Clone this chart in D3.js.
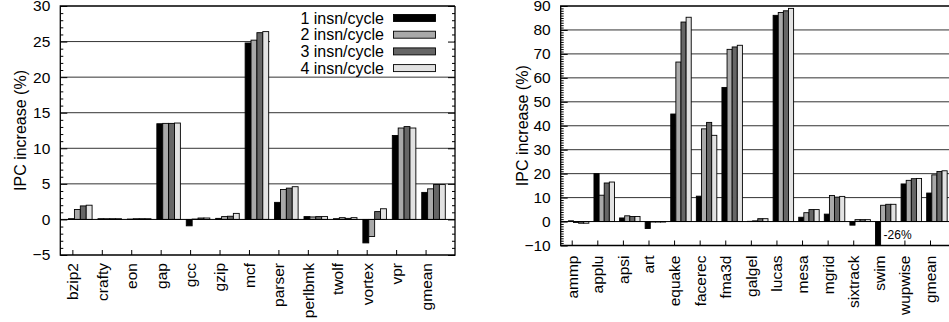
<!DOCTYPE html>
<html>
<head>
<meta charset="utf-8">
<script src="https://cdn.jsdelivr.net/npm/d3@7"></script>
<style>
  html, body { margin: 0; padding: 0; background: #fff; }
  svg { display: block; font-family: 'Liberation Sans', Arial, Helvetica, sans-serif; }
</style>
</head>
<body>
<svg id="chart" width="949" height="322"></svg>
<script>
// ---- data ----
const seriesNames = ['1 insn/cycle', '2 insn/cycle', '3 insn/cycle', '4 insn/cycle'];
const seriesColors = ['#000000', '#a9a9a9', '#666666', '#e2e2e2'];

const intCats = ['bzip2', 'crafty', 'eon', 'gap', 'gcc', 'gzip', 'mcf', 'parser', 'perlbmk', 'twolf', 'vortex', 'vpr', 'gmean'];
const int1 = [0.1, 0.1, 0.05, 13.45, -0.9, 0.15, 24.8, 2.4, 0.4, 0.1, -3.3, 11.8, 3.8];
const int2 = [1.4, 0.1, 0.1, 13.5, 0.05, 0.4, 25.2, 4.2, 0.35, 0.25, -2.4, 12.85, 4.3];
const int3 = [1.9, 0.1, 0.1, 13.5, 0.2, 0.45, 26.25, 4.4, 0.4, 0.15, 1.1, 13.05, 4.9];
const int4 = [2.0, 0.1, 0.1, 13.55, 0.2, 0.85, 26.4, 4.6, 0.4, 0.25, 1.5, 12.85, 4.9];
const intTicks = [-5, 0, 5, 10, 15, 20, 25, 30];

const fpCats = ['ammp', 'applu', 'apsi', 'art', 'equake', 'facerec', 'fma3d', 'galgel', 'lucas', 'mesa', 'mgrid', 'sixtrack', 'swim', 'wupwise', 'gmean'];
const fp1 = [0.3, 20, 1.5, -2.9, 44.9, 10.6, 56, 0.1, 86.1, 1.8, 3.1, -1.5, -26, 15.7, 11.9];
const fp2 = [-0.4, 11, 2.4, -0.2, 66.6, 38.7, 71.9, 0.3, 87.3, 3.7, 10.9, 0.8, 6.8, 17.2, 19.5];
const fp3 = [-0.7, 16.1, 2.1, -0.2, 83.3, 41.4, 72.9, 1.2, 88, 5.0, 10.2, 0.8, 7.2, 17.9, 20.9];
const fp4 = [-0.7, 16.5, 2.1, -0.2, 85.3, 36, 73.6, 1.2, 89, 5.0, 10.5, 0.8, 7.2, 18, 21.2];
const fpTicks = [-10, 0, 10, 20, 30, 40, 50, 60, 70, 80, 90];

const svg = d3.select('#chart');
const FS = 15.5;

function drawChart(o) {
  const series = o.series;
  const yMin = o.yTicks[0], yMax = o.yTicks[o.yTicks.length - 1];
  const x = d3.scaleLinear().domain(o.xDomain).range([o.left, o.right]);
  const y = d3.scaleLinear().domain([yMin, yMax]).range([o.bottom, o.top]);
  const g = svg.append('g');
  const bw = x(0.2) - x(0);

  // grid
  g.selectAll('.grid').data(o.yTicks.filter(t => t !== yMin && t !== yMax && t !== 0)).enter()
    .append('line')
    .attr('x1', o.left).attr('x2', o.right)
    .attr('y1', d => y(d)).attr('y2', d => y(d))
    .attr('stroke', '#333').attr('stroke-width', 1);

  // legend background (opaque key)
  if (o.legend) {
    g.append('rect').attr('x', o.legend.x0).attr('y', o.top + 1)
      .attr('width', o.right - o.legend.x0 - 1).attr('height', o.legend.h)
      .attr('fill', '#fff');
  }

  // bars
  series.forEach((vals, s) => {
    g.selectAll('.bar' + s).data(vals).enter().append('rect')
      .attr('x', (d, i) => x(i - 0.13 + 0.2 * s))
      .attr('width', bw)
      .attr('y', d => y(Math.max(d, 0)))
      .attr('height', d => Math.abs(y(Math.max(d, yMin)) - y(0)))
      .attr('fill', seriesColors[s])
      .attr('stroke', '#000').attr('stroke-width', 0.9);
  });

  // zero line
  g.append('line').attr('x1', o.left).attr('x2', o.right)
    .attr('y1', y(0)).attr('y2', y(0)).attr('stroke', '#000').attr('stroke-width', 1);

  // clipped value labels
  series.forEach((vals, s) => {
    vals.forEach((v, i) => {
      if (v < yMin) {
        g.append('text')
          .attr('x', x(i - 0.13 + 0.2 * s) + bw + 3)
          .attr('y', y(yMin + (0 - yMin) * 0.45))
          .attr('dy', '0.35em')
          .attr('font-size', 12)
          .text(`${v}%`);
      }
    });
  });

  // y axis major + minor
  const minor = d3.range(yMin, yMax + 0.001, o.minorStep).filter(t => !o.yTicks.includes(t));
  const yAx = g.append('g').attr('transform', `translate(${o.left},0)`)
    .call(d3.axisLeft(y).tickValues(o.yTicks).tickSizeInner(-7).tickSizeOuter(0).tickPadding(10));
  yAx.attr('font-size', FS).attr('font-family', null);
  yAx.selectAll('text').attr('fill', '#000');
  g.append('g').attr('transform', `translate(${o.left},0)`)
    .call(d3.axisLeft(y).tickValues(minor).tickSizeInner(-3).tickSizeOuter(0).tickFormat(''));
  if (o.mirror) {
    g.append('g').attr('transform', `translate(${o.right},0)`)
      .call(d3.axisRight(y).tickValues(o.yTicks).tickSizeInner(-7).tickSizeOuter(0).tickFormat(''));
    g.append('g').attr('transform', `translate(${o.right},0)`)
      .call(d3.axisRight(y).tickValues(minor).tickSizeInner(-3).tickSizeOuter(0).tickFormat(''));
  }

  // x axis
  const xAx = g.append('g').attr('transform', `translate(0,${o.bottom})`)
    .call(d3.axisBottom(x).tickValues(d3.range(o.cats.length)).tickSizeInner(-5).tickSizeOuter(0)
      .tickFormat(i => o.cats[i]));
  xAx.attr('font-size', FS).attr('font-family', null);
  xAx.selectAll('text')
    .attr('transform', 'rotate(-90)')
    .attr('x', -o.labelGap).attr('y', 0).attr('dy', '0.35em')
    .attr('text-anchor', 'end').attr('fill', '#000');

  g.selectAll('.domain').remove();
  g.selectAll('.tick line').attr('stroke', '#000');

  // border
  g.append('path')
    .attr('d', `M${o.right},${o.top}H${o.left}V${o.bottom}H${o.right}` + (o.mirror ? `V${o.top}` : ''))
    .attr('fill', 'none').attr('stroke', '#000').attr('stroke-width', 1.3);

  // y label
  g.append('text')
    .attr('transform', `translate(${o.ylabelX},${(o.top + o.bottom) / 2}) rotate(-90)`)
    .attr('text-anchor', 'middle').attr('dy', '0.35em')
    .attr('font-size', 16)
    .text('IPC increase (%)');

  // legend
  if (o.legend) {
    const L = o.legend;
    seriesNames.forEach((name, s) => {
      const cy = L.y0 + s * L.dy;
      g.append('text').attr('x', L.textX).attr('y', cy).attr('dy', '0.35em')
        .attr('text-anchor', 'end').attr('font-size', 16).text(name);
      g.append('rect').attr('x', L.boxX).attr('y', cy - 3.5).attr('width', L.boxW).attr('height', 7)
        .attr('fill', seriesColors[s]).attr('stroke', '#000').attr('stroke-width', 0.9);
    });
  }
}

drawChart({
  cats: intCats, series: [int1, int2, int3, int4], yTicks: intTicks, minorStep: 1,
  xDomain: [-0.41, 13.0], left: 60.3, right: 455, top: 6, bottom: 255,
  labelGap: 8, ylabelX: 20, mirror: true,
  legend: { x0: 270, h: 69, textX: 384, boxX: 393.5, boxW: 42, y0: 18, dy: 16.7 }
});

drawChart({
  cats: fpCats, series: [fp1, fp2, fp3, fp4], yTicks: fpTicks, minorStep: 1,
  xDomain: [-0.43, 15.25], left: 560.7, right: 962, top: 6, bottom: 245.5,
  labelGap: 10, ylabelX: 522, mirror: false
});
</script>
</body>
</html>
